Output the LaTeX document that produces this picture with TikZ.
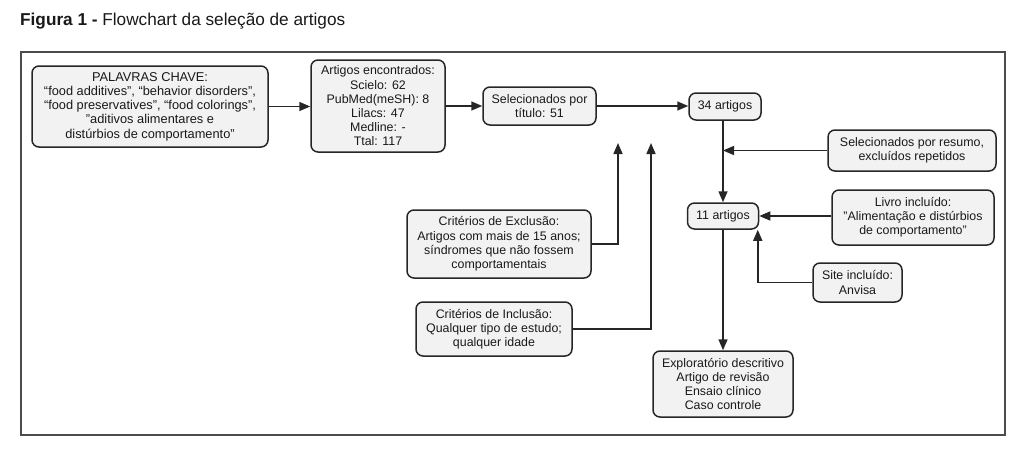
\documentclass[tikz,border=0pt]{standalone}
\usepackage{fontspec}
\setmainfont{Liberation Sans}
\usetikzlibrary{arrows.meta,calc}
\begin{document}
\begin{tikzpicture}[x=1pt,y=-1pt,
  box/.style={draw=black!85,line width=1.5pt,fill=black!5,rounded corners=7pt,align=center,
    font=\fontsize{12.4}{14.2}\selectfont,inner sep=1pt,anchor=center,text=black!90},
  arr/.style={line width=1.5pt,draw=black!85,-{Triangle[length=11pt,width=9pt]}},
  ln/.style={line width=1.5pt,draw=black!85}]
\useasboundingbox (0,0) rectangle (1024,452);
\node[anchor=base west,inner sep=0pt,font=\fontsize{17.2}{20}\selectfont,text=black!90] (title) at (20,26)
  {\textbf{Figura 1 -} Flowchart da seleção de artigos};
\draw[line width=1.6pt,black!70] (21,52) rectangle (1005,435);

\node[box,minimum width=236pt,minimum height=81pt,font=\fontsize{12.8}{14.2}\selectfont] (kw) at (150,106.5)
  {PALAVRAS CHAVE:\\“food additives”, “behavior disorders”,\\“food preservatives”, “food colorings”,\\"aditivos alimentares e\\distúrbios de comportamento"};
\node[box,minimum width=134pt,minimum height=92pt] (found) at (378,106)
  {Artigos encontrados:\\Scielo: 62\\PubMed(meSH): 8\\Lilacs: 47\\Medline: -\\Ttal: 117};
\node[box,minimum width=113pt,minimum height=38pt] (sel) at (539.5,106)
  {Selecionados por\\título: 51};
\node[box,minimum width=72pt,minimum height=27pt] (a34) at (725,106.5) {34 artigos};
\node[box,minimum width=168pt,minimum height=41pt] (resumo) at (912,150.5)
  {Selecionados por resumo,\\excluídos repetidos};
\node[box,minimum width=71pt,minimum height=26pt] (a11) at (723,216) {11 artigos};
\node[box,minimum width=162pt,minimum height=55pt] (livro) at (913,217.5)
  {Livro incluído:\\"Alimentação e distúrbios\\de comportamento"};
\node[box,minimum width=89pt,minimum height=39pt] (site) at (857.5,282.5)
  {Site incluído:\\Anvisa};
\node[box,minimum width=184pt,minimum height=68pt] (excl) at (499,244)
  {Critérios de Exclusão:\\Artigos com mais de 15 anos;\\síndromes que não fossem\\comportamentais};
\node[box,minimum width=156pt,minimum height=54pt] (incl) at (494,329)
  {Critérios de Inclusão:\\Qualquer tipo de estudo;\\qualquer idade};
\node[box,minimum width=140pt,minimum height=66pt,font=\fontsize{12.4}{13.9}\selectfont] (final) at (723,384)
  {Exploratório descritivo\\Artigo de revisão\\Ensaio clínico\\Caso controle};

\coordinate (tip1) at (618,143);
\coordinate (tip2) at (651,143);

\draw[arr] (kw.east) -- (found.west |- kw.east);
\draw[arr] (found.east |- sel.west) -- (sel.west);
\draw[arr] (sel.east) -- (a34.west |- sel.east);
\draw[arr] (a11.north |- a34.south) -- (a11.north);
\draw[arr] (resumo.west) -- (resumo.west -| a11.north);
\draw[arr] (livro.west |- a11.east) -- (a11.east);
\draw[arr] (site.west) -| ([xshift=-1.5pt]a11.south east);
\draw[arr] (a11.south) -- (final.north);
\draw[arr] (excl.east) -| (tip1);
\draw[arr] (incl.east) -| (tip2);
\end{tikzpicture}
\end{document}
